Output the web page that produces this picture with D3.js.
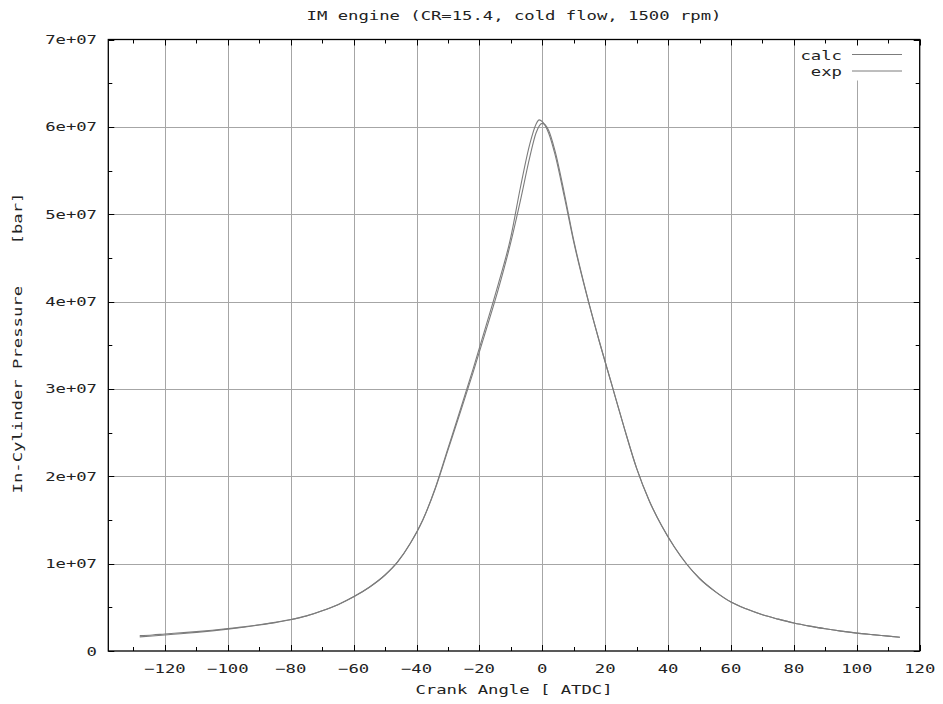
<!DOCTYPE html>
<html>
<head>
<meta charset="utf-8">
<script src="https://cdn.jsdelivr.net/npm/d3@7/dist/d3.min.js"></script>
<style>
  body { margin: 0; background: #fff; }
  text { font-family: "DejaVu Sans Mono", monospace; font-size: 12.5px; fill: #222; }
</style>
</head>
<body>
<div id="chart"></div>
<script>
// chart data (pressure values in units of 1e6)
var angleCalc = [-128,-124,-120,-115,-110,-105,-100,-95,-90,-85,-80,-75,-70,-65,-60,-55,-50,-46,-42,-38,-34,-30,-26,-22,-18,-14,-10,-7,-4,-2,0,2,4,7,10,14,18,22,26,30,34,38,42,46,50,55,60,65,70,75,80,85,90,95,100,105,110,113.7];
var pressureCalc = [1.62,1.72,1.83,1.98,2.13,2.3,2.5,2.72,2.97,3.25,3.58,4.0,4.6,5.3,6.2,7.3,8.7,10.2,12.3,15.0,18.6,23.0,27.4,31.9,36.6,41.4,46.8,51.5,56.5,59.3,60.4,59.6,57.3,52.4,47.0,41.0,35.6,30.6,25.6,20.9,17.2,14.3,11.9,9.9,8.3,6.8,5.6,4.8,4.15,3.65,3.2,2.85,2.55,2.28,2.05,1.87,1.7,1.57];

var angleExp = [-128,-124,-120,-115,-110,-105,-100,-95,-90,-85,-80,-75,-70,-65,-60,-55,-50,-46,-42,-38,-34,-30,-26,-22,-18,-14,-10,-7,-4,-2,-1,0,2,4,7,10,14,18,22,26,30,34,38,42,46,50,55,60,65,70,75,80,85,90,95,100,105,110,113.7];
var pressureExp = [1.76,1.84,1.95,2.08,2.22,2.38,2.56,2.76,3.0,3.28,3.6,4.02,4.6,5.3,6.2,7.3,8.7,10.2,12.3,15.0,18.7,23.2,27.7,32.3,37.1,42.0,47.4,53.0,58.0,60.3,60.8,60.6,59.3,56.9,52.0,46.8,40.9,35.6,30.6,25.6,20.9,17.2,14.3,11.9,9.9,8.3,6.8,5.6,4.8,4.15,3.65,3.2,2.85,2.55,2.28,2.05,1.87,1.7,1.57];

var xTicks = [-120,-100,-80,-60,-40,-20,0,20,40,60,80,100,120];
var xMinorTicks = [-130,-110,-90,-70,-50,-30,-10,10,30,50,70,90,110];
var yTicks = [0,1e7,2e7,3e7,4e7,5e7,6e7,7e7];
var yTickLabels = ["0","1e+07","2e+07","3e+07","4e+07","5e+07","6e+07","7e+07"];
var yMinorTicks = [5e6,15e6,25e6,35e6,45e6,55e6,65e6];
var seriesNames = ["calc","exp"];

var WIDTH = 943, HEIGHT = 704;
var LEFT = 108.3, RIGHT = 919.7, TOP = 39.5, BOTTOM = 651;
var GRID_COLOR = "#a6a6a6";
var LINE_COLOR = "#7c7c7c";
var STRETCH = 1.38; // wide pixel-font look

var svg = d3.select("#chart").append("svg")
    .attr("width", WIDTH)
    .attr("height", HEIGHT);

var x = d3.scaleLinear().domain([-138, 120]).range([LEFT, RIGHT]);
var y = d3.scaleLinear().domain([0, 7e7]).range([BOTTOM, TOP]);

// text helper: stretched horizontally
function addText(str, px, py, anchor, rotate) {
    var t = "translate(" + px + "," + py + ")";
    if (rotate) t += " rotate(" + rotate + ")";
    t += " scale(" + STRETCH + ",1)";
    return svg.append("text")
        .attr("transform", t)
        .attr("text-anchor", anchor)
        .attr("xml:space", "preserve")
        .style("white-space", "pre")
        .text(str);
}

// grid lines
svg.append("g").selectAll("line").data(xTicks.slice(0, -1)).enter().append("line")
    .attr("x1", function(d) { return Math.round(x(d)) + 0.5; })
    .attr("x2", function(d) { return Math.round(x(d)) + 0.5; })
    .attr("y1", TOP).attr("y2", BOTTOM)
    .attr("stroke", GRID_COLOR);
svg.append("g").selectAll("line").data(yTicks.slice(1, -1)).enter().append("line")
    .attr("y1", function(d) { return Math.round(y(d)) + 0.5; })
    .attr("y2", function(d) { return Math.round(y(d)) + 0.5; })
    .attr("x1", LEFT).attr("x2", RIGHT)
    .attr("stroke", GRID_COLOR);

// the key clears the grid behind it
svg.append("rect")
    .attr("x", 797).attr("y", TOP + 1)
    .attr("width", RIGHT - 798).attr("height", 40)
    .attr("fill", "#fff");

// tick marks on all four sides
var ticks = svg.append("g").attr("stroke", "#000");
function xTickMarks(data, len) {
    data.forEach(function(d) {
        var px = Math.round(x(d)) + 0.5;
        ticks.append("line").attr("x1", px).attr("x2", px).attr("y1", BOTTOM).attr("y2", BOTTOM - len);
        ticks.append("line").attr("x1", px).attr("x2", px).attr("y1", TOP).attr("y2", TOP + len);
    });
}
function yTickMarks(data, len) {
    data.forEach(function(d) {
        var py = Math.round(y(d)) + 0.5;
        ticks.append("line").attr("y1", py).attr("y2", py).attr("x1", LEFT).attr("x2", LEFT + len);
        ticks.append("line").attr("y1", py).attr("y2", py).attr("x1", RIGHT).attr("x2", RIGHT - len);
    });
}
xTickMarks(xTicks, 6);
xTickMarks(xMinorTicks, 4);
yTickMarks(yTicks, 6);
yTickMarks(yMinorTicks, 4);

// frame
svg.append("rect")
    .attr("x", LEFT).attr("y", TOP)
    .attr("width", RIGHT - LEFT).attr("height", BOTTOM - TOP)
    .attr("fill", "none")
    .attr("stroke", "#000")
    .attr("stroke-width", 1.3);

// tick labels
xTicks.forEach(function(d) {
    addText(String(d).replace("-", "\u2212"), x(d), 673, "middle");
});
yTicks.forEach(function(d, i) {
    addText(yTickLabels[i], 97, y(d) + 4.5, "end");
});

// titles
addText("IM engine (CR=15.4, cold flow, 1500 rpm)", 514, 20, "middle");
addText("Crank Angle [ ATDC]", 514, 694, "middle");
addText("In-Cylinder Pressure    [bar]", 22, 343, "middle", -90);

// curves
var line = d3.line()
    .x(function(d) { return x(d[0]); })
    .y(function(d) { return y(d[1] * 1e6); })
    .curve(d3.curveMonotoneX);

var calcData = d3.zip(angleCalc, pressureCalc);
var expData = d3.zip(angleExp, pressureExp);

[calcData, expData].forEach(function(series) {
    svg.append("path")
        .datum(series)
        .attr("d", line)
        .attr("fill", "none")
        .attr("stroke", LINE_COLOR)
        .attr("stroke-width", 1.1);
});

// key
seriesNames.forEach(function(name, i) {
    var ly = 54.5 + i * 16.5;
    addText(name, 842, ly + 5, "end");
    svg.append("line")
        .attr("x1", 852).attr("x2", 902)
        .attr("y1", ly).attr("y2", ly)
        .attr("stroke", LINE_COLOR);
});
</script>
</body>
</html>
